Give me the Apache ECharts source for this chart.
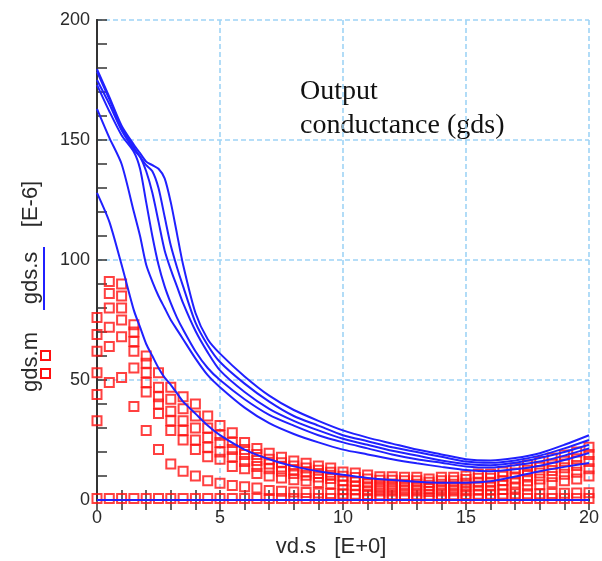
<!DOCTYPE html>
<html>
<head>
<meta charset="utf-8">
<script src="https://cdn.jsdelivr.net/npm/echarts@6/dist/echarts.min.js"></script>
<style>
  html, body { margin: 0; padding: 0; background: #fff; }
  #chart { width: 602px; height: 561px; }
</style>
</head>
<body>
<div id="chart"></div>
<script>
// Measured drain voltages (V) – one column of squares every 0.5 V
const measX = [0,0.5,1,1.5,2,2.5,3,3.5,4,4.5,5,5.5,6,6.5,7,7.5,8,8.5,9,9.5,10,
  10.5,11,11.5,12,12.5,13,13.5,14,14.5,15,15.5,16,16.5,17,17.5,18,18.5,19,19.5,20];

// Measured gds (E-6) for each gate bias
const meas1 = [76,91,90,73,60,53,47,43,40,35,31,28,24,21.5,19.5,17.8,16.3,15.3,14.2,13.3,11.7,
  11.2,10.4,9.7,9.7,9.5,9.5,8.7,9.5,9.5,10,10.8,10.8,11.7,13.3,14.6,16,17.5,18.8,20,22];
const meas2 = [69,86,85,70,57,47,42,38,35,30,27,24,21,19,17,15.5,14.2,13.3,12.4,11.6,9.9,
  9.4,8.8,8.2,8.2,8,8,7.4,8,8,8.5,9.1,9.1,9.9,11.2,12.4,13.6,14.9,16.1,17.2,19];
const meas3 = [62,80,80,66,53,43,37,33,30,26,24,21,19,16.5,15,13.7,12.6,11.8,11,10.3,8,
  7.7,7.1,6.7,6.7,6.6,6.6,6.1,6.6,6.6,7,7.4,7.4,8,9.2,10.2,11.2,12.3,13.4,14.4,16];
const meas4 = [53,72,75,62,49,40,33,29,25,22,20,18,16,14,13,12,11,10.3,9.6,9,6.2,
  5.9,5.5,5.2,5.2,5.1,5.1,4.8,5.1,5.1,5.4,5.8,5.8,6.2,7.1,8,8.8,9.8,10.7,11.6,13];
const meas5 = [44,64,68,55,45,36,29,25,21,18,17,14,13,11,10,9.2,8.4,7.9,7.3,6.8,4.3,
  4.2,3.9,3.7,3.7,3.7,3.7,3.5,3.7,3.7,3.9,4.1,4.1,4.4,5,5.8,6.4,7.2,8,8.8,10];
const meas6 = [33,49,51,39,29,21,15,12,10,8,7,6,5.5,5,4,3.6,3.3,3.1,2.9,2.7,2.5,
  2.4,2.3,2.2,2.2,2.2,2.2,2.1,2.2,2.2,2.3,2.4,2.4,2.5,2.6,2.6,2.6,2.7,2.8,2.9,3];
const meas0 = [0.6,0.6,0.6,0.6,0.6,0.6,0.6,0.6,0.6,0.6,0.6,0.6,0.6,0.6,0.6,0.6,0.6,0.6,0.6,0.6,0.6,
  0.6,0.6,0.6,0.6,0.6,0.6,0.6,0.6,0.6,0.6,0.6,0.6,0.6,0.6,0.6,0.6,0.6,0.6,0.6,0.6];

// Simulated drain voltages (V)
const simX = [0,0.5,1,1.5,1.75,2,2.25,2.5,2.75,3,3.25,3.5,4,4.5,5,6,7,8,9,10,11,12,13,14,15,16,17,18,19,20];

// Simulated gds (E-6) for each gate bias
const simA = [179.5,168,156,148,144.5,141,139.5,138,134,124,111,98,78,67,61,51.5,43.5,37.5,33,29,26,23.5,21,19,17,16.5,17.5,19.5,23,27];
const simB = [178.5,167,155,147,143,139.5,137,130,118,106,97,89,74,64.5,57.5,48.5,41,35,31,27,24.5,22,20,18,16,15.5,16.5,18.5,21.5,25];
const simC = [175,165,154,146,143,137,128,116,104,96,89,82,70.5,61.5,54,45,38,33,29,25.5,23,20.5,18.5,16.5,15,14.5,15.5,17.5,20,23];
const simD = [173,162,152,145,138,124,110,98,89,82,76,71,62,55,50,42,35.5,31,27,24,21.5,19,17,15.5,14,13.5,14.5,16,18.5,21.5];
const simE = [163,151,140,120,110,98,91,85,80,75,71,67,59,52,47,38.5,32,27.5,24,21,19,17,15.3,13.8,12.5,12,12.8,14.3,16.7,19.6];
const simF = [128,116,98,79,72,65,60,55,51,48,44.5,41,36,31,27,21,17,14,12,10.5,9.2,8.3,7.6,7.2,7.2,7.8,9.8,12,13.8,15.4];
const simZ = [0,0,0,0,0,0,0,0,0,0,0,0,0,0,0,0,0,0,0,0,0,0,0,0,0,0,0,0,0,0];

const xTicks = { min: 0, max: 20, interval: 5 };
const yTicks = { min: 0, max: 200, interval: 50 };

const pair = (xs, ys) => xs.map((x, i) => [x, ys[i]]);

const measSets = [meas1, meas2, meas3, meas4, meas5, meas6, meas0];
const simSets = [simA, simB, simC, simD, simE, simF, simZ];

const RED = '#ff1010';
const BLUE = '#2020ff';
const GRIDBLUE = '#9fd4f6';
const labelFont = { fontFamily: 'Liberation Sans, Arial, sans-serif', fontSize: 18, color: '#2a2a2a' };

const series = [];
measSets.forEach((ys) => {
  series.push({
    type: 'scatter',
    data: pair(measX, ys),
    symbol: 'rect',
    symbolSize: 9,
    itemStyle: { color: 'rgba(255,255,255,0)', borderColor: RED, borderWidth: 2 },
    z: 2,
    silent: true
  });
});
simSets.forEach((ys) => {
  series.push({
    type: 'line',
    data: pair(simX, ys),
    showSymbol: false,
    smooth: 0.25,
    lineStyle: { color: BLUE, width: 2 },
    z: 3,
    silent: true
  });
});

const chart = echarts.init(document.getElementById('chart'), null, { renderer: 'canvas' });
chart.setOption({
  animation: false,
  backgroundColor: '#fff',
  grid: { left: 97, right: 12, top: 20, bottom: 61, containLabel: false },
  xAxis: [
    {
      type: 'value', position: 'bottom', min: xTicks.min, max: xTicks.max, interval: xTicks.interval,
      axisLine: { show: true, lineStyle: { color: '#333', width: 1.5 } },
      axisTick: { show: true, inside: true, length: 10, lineStyle: { color: '#333', width: 1.5 } },
      minorTick: { show: true, splitNumber: 5, length: 10, lineStyle: { color: '#333', width: 1.5 } },
      axisLabel: Object.assign({ margin: 9 }, labelFont),
      splitLine: { show: true, lineStyle: { color: GRIDBLUE, width: 1.6, type: [5, 3] } }
    },
    {
      type: 'value', position: 'top', min: xTicks.min, max: xTicks.max, interval: xTicks.interval,
      axisLine: { show: true, lineStyle: { color: '#333', width: 2 } },
      axisTick: { show: true, inside: true, length: 10, lineStyle: { color: '#333', width: 1.5 } },
      minorTick: { show: true, splitNumber: 5, length: 10, lineStyle: { color: '#333', width: 1.5 } },
      axisLabel: { show: false },
      splitLine: { show: false }
    }
  ],
  yAxis: [
    {
      type: 'value', position: 'left', min: yTicks.min, max: yTicks.max, interval: yTicks.interval,
      axisLine: { show: true, lineStyle: { color: '#333', width: 2 } },
      axisTick: { show: true, inside: true, length: 10, lineStyle: { color: '#333', width: 1.5 } },
      minorTick: { show: true, splitNumber: 5, length: 10, lineStyle: { color: '#333', width: 1.5 } },
      axisLabel: Object.assign({ margin: 7 }, labelFont),
      splitLine: { show: true, lineStyle: { color: GRIDBLUE, width: 1.6, type: [5, 3] } }
    },
    {
      type: 'value', position: 'right', min: yTicks.min, max: yTicks.max, interval: yTicks.interval,
      axisLine: { show: true, lineStyle: { color: '#333', width: 2 } },
      axisTick: { show: false },
      axisLabel: { show: false },
      splitLine: { show: false }
    }
  ],
  series: series,
  graphic: [
    // annotation inside the plot
    { type: 'text', left: 300, top: 78, style: { text: 'Output', font: '28px "Liberation Serif", "Times New Roman", serif', fill: '#111' } },
    { type: 'text', left: 300, top: 112, style: { text: 'conductance (gds)', font: '28px "Liberation Serif", "Times New Roman", serif', fill: '#111' } },
    // x axis title
    { type: 'text', x: 331, y: 547, style: { text: 'vd.s   [E+0]', font: '22px "Liberation Sans", Arial, sans-serif', fill: '#2a2a2a', align: 'center', verticalAlign: 'middle' } },
    // y axis title pieces with their series keys
    { type: 'text', x: 31, y: 362, rotation: Math.PI / 2, style: { text: 'gds.m', font: '22px "Liberation Sans", Arial, sans-serif', fill: '#2a2a2a', align: 'center', verticalAlign: 'middle' } },
    { type: 'text', x: 31, y: 278, rotation: Math.PI / 2, style: { text: 'gds.s', font: '22px "Liberation Sans", Arial, sans-serif', fill: '#2a2a2a', align: 'center', verticalAlign: 'middle' } },
    { type: 'text', x: 31, y: 204, rotation: Math.PI / 2, style: { text: '[E-6]', font: '22px "Liberation Sans", Arial, sans-serif', fill: '#2a2a2a', align: 'center', verticalAlign: 'middle' } },
    { type: 'line', shape: { x1: 44, y1: 247, x2: 44, y2: 310 }, style: { stroke: BLUE, lineWidth: 2 } },
    { type: 'rect', shape: { x: 41, y: 351, width: 9, height: 9 }, style: { fill: 'none', stroke: RED, lineWidth: 2 } },
    { type: 'rect', shape: { x: 41, y: 369, width: 9, height: 9 }, style: { fill: 'none', stroke: RED, lineWidth: 2 } }
  ]
});
</script>
</body>
</html>
